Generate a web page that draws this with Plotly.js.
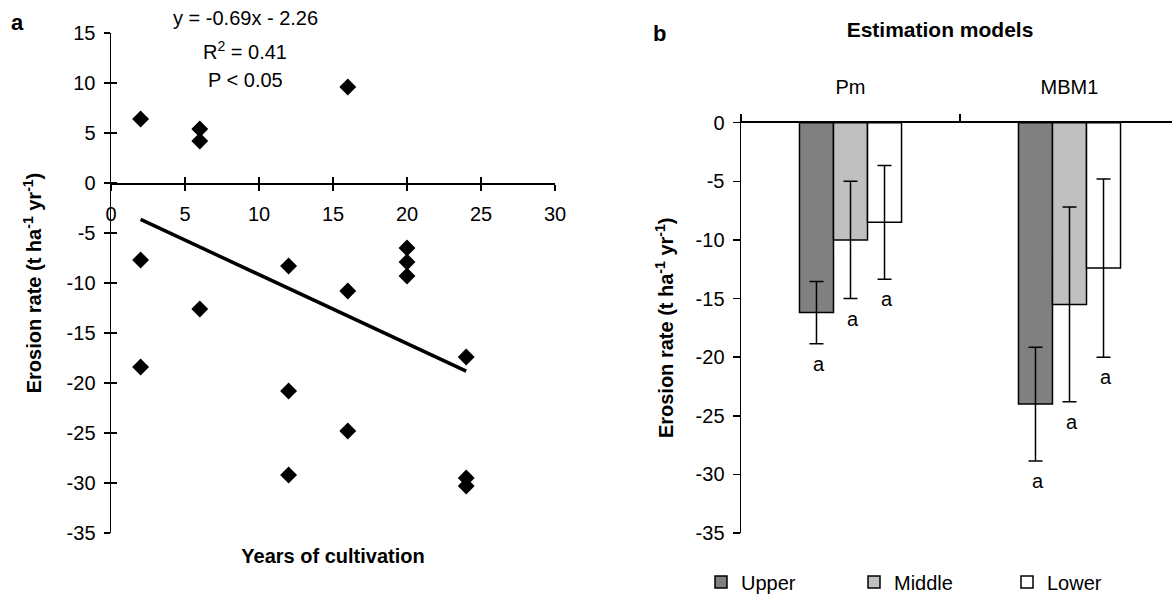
<!DOCTYPE html>
<html>
<head>
<meta charset="utf-8">
<script src="https://cdn.plot.ly/plotly-3.0.1.min.js"></script>
<style>html,body{margin:0;padding:0;background:#fff;}#chart{width:1172px;height:596px;}</style>
</head>
<body>
<div id="chart"></div>
<script>
// ---- Panel a: scatter data ----
const yearsCultivation = [2,2,2, 6,6,6, 12,12,12, 16,16,16, 20,20,20, 24,24,24];
const erosionRate = [6.4,-7.7,-18.4, 5.4,4.2,-12.6, -8.3,-20.8,-29.2, 9.6,-10.8,-24.8, -6.5,-7.9,-9.3, -17.4,-29.5,-30.3];
const trendSlope = -0.69;
const trendIntercept = -2.26;
const trendXRange = [2, 24];
const regressionLines = ['y = -0.69x - 2.26', 'R<sup>2</sup> = 0.41', 'P < 0.05'];
const xTickVals = [0, 5, 10, 15, 20, 25, 30];
const xTickText = ['0', '5', '10', '15', '20', '25', '30'];
const yTickValsA = [15, 10, 5, 0, -5, -10, -15, -20, -25, -30, -35];
const yTickTextA = ['15', '10', '5', '0', '-5', '-10', '-15', '-20', '-25', '-30', '-35'];

// ---- Panel b: bar data ----
const models = ['Pm', 'MBM1'];
const positions = ['Upper', 'Middle', 'Lower'];
const upperRate = [-16.2, -24.0];
const upperErr = [2.65, 4.85];
const middleRate = [-10.0, -15.5];
const middleErr = [5.0, 8.3];
const lowerRate = [-8.5, -12.4];
const lowerErr = [4.85, 7.6];
const sigLetters = [['a','a'], ['a','a'], ['a','a']];
const yTickValsB = [0, -5, -10, -15, -20, -25, -30, -35];
const yTickTextB = ['0', '-5', '-10', '-15', '-20', '-25', '-30', '-35'];

const W = 1172, H = 596;
const FONT = 'Liberation Sans, Arial, sans-serif';
const fs = 20;

// domains (paper fractions)
const xdA = [111/W, 555/W];
const ydA = [1-533/H, 1-33/H];
const xdB = [741/W, 1];
const ydB = [1-533/H, 1-122.7/H];
const yRangeA = [-35, 15];
const zeroPos = ydA[0] + (0 - yRangeA[0])/(yRangeA[1]-yRangeA[0])*(ydA[1]-ydA[0]);

const catPx = 219;
const xRangeB = [-0.5, -0.5 + (xdB[1]-xdB[0])*W/catPx];

const traces = [];
traces.push({
  type:'scatter', mode:'markers', x: yearsCultivation, y: erosionRate,
  xaxis:'x', yaxis:'y', showlegend:false,
  marker:{symbol:'diamond', size:13, color:'#000'}
});
traces.push({
  type:'scatter', mode:'lines', x: trendXRange, y: trendXRange.map(v => trendSlope*v + trendIntercept),
  xaxis:'x', yaxis:'y', showlegend:false,
  line:{color:'#000', width:3.5}
});

const barSets = [
  {name: positions[0], y: upperRate, e: upperErr, c:'#808080'},
  {name: positions[1], y: middleRate, e: middleErr, c:'#c0c0c0'},
  {name: positions[2], y: lowerRate, e: lowerErr, c:'#ffffff'}
];
barSets.forEach(b => {
  traces.push({
    type:'bar', name:b.name, x: models, y: b.y, xaxis:'x2', yaxis:'y2',
    marker:{color:b.c, line:{color:'#000', width:1.5}},
    error_y:{type:'data', array:b.e, visible:true, color:'#000', thickness:1.5, width:7}
  });
});

const annotations = [];
annotations.push({xref:'paper', yref:'paper', x:17/W, y:1-22/H, xanchor:'center', yanchor:'middle', text:'<b>a</b>', showarrow:false, font:{size:22, color:'#000', family:FONT}});
annotations.push({xref:'paper', yref:'paper', x:659/W, y:1-34/H, xanchor:'center', yanchor:'middle', text:'<b>b</b>', showarrow:false, font:{size:22, color:'#000', family:FONT}});
const regY = [18, 50, 80];
regressionLines.forEach((t,i) => {
  annotations.push({xref:'paper', yref:'paper', x:245/W, y:1-regY[i]/H, xanchor:'center', yanchor:'middle', text:t, showarrow:false, font:{size:fs, color:'#000', family:FONT}});
});
const offsets = [-34, 0, 34];
barSets.forEach((b, si) => {
  models.forEach((m, mi) => {
    annotations.push({
      xref:'x2', yref:'y2', x:m, y:b.y[mi]-b.e[mi], text:sigLetters[si][mi],
      xshift: offsets[si]+2, yshift:-7, xanchor:'center', yanchor:'top', showarrow:false,
      font:{size:fs, color:'#000', family:FONT}
    });
  });
});

const axLine = {showline:true, linecolor:'#000', linewidth:1.5, showgrid:false, zeroline:false, tickcolor:'#000', tickwidth:1.5, tickfont:{size:fs, color:'#000', family:FONT}};

const layout = {
  width:W, height:H,
  margin:{l:0, r:0, t:0, b:0, autoexpand:false},
  paper_bgcolor:'#fff', plot_bgcolor:'rgba(0,0,0,0)',
  font:{family:FONT, color:'#000', size:fs},
  title:{text:'<b>Estimation models</b>', x:940/W, xanchor:'center', y:1-30/H, yanchor:'middle', font:{size:21, color:'#000', family:FONT}},
  showlegend:true,
  legend:{orientation:'h', x:701/W, xanchor:'left', y:1-582/H, yanchor:'middle', entrywidth:108, entrywidthmode:'pixels', font:{size:fs, color:'#000', family:FONT}, bgcolor:'rgba(0,0,0,0)', traceorder:'normal'},
  barmode:'group', bargap:0.534, bargroupgap:0,
  xaxis: Object.assign({}, axLine, {domain:xdA, range:[0,30], anchor:'free', position:zeroPos, tickmode:'array', tickvals:xTickVals, ticktext:xTickText, ticks:'outside', ticklen:6, ticklabelstandoff:6}),
  xaxis3: {domain:xdA, range:[0,30], overlaying:'x', anchor:'free', position:zeroPos, tickmode:'array', tickvals:xTickVals, ticks:'inside', ticklen:6, tickwidth:1.5, tickcolor:'#000', showticklabels:false, showline:false, showgrid:false, zeroline:false},
  xaxis4: {domain:xdA, range:[0,30], overlaying:'x', anchor:'y', showline:false, showgrid:false, zeroline:false, ticks:'', showticklabels:false,
           title:{text:'<b>Years of cultivation</b>', standoff:15, font:{size:fs, color:'#000', family:FONT}}},
  yaxis: Object.assign({}, axLine, {domain:ydA, range:yRangeA, anchor:'x', tickmode:'array', tickvals:yTickValsA, ticktext:yTickTextA, ticks:'outside', ticklen:6, ticklabelstandoff:4,
           title:{text:'<b>Erosion rate (t ha<sup>-1</sup> yr<sup>-1</sup>)</b>', standoff:19, font:{size:fs, color:'#000', family:FONT}}}),
  yaxis3: {domain:ydA, range:yRangeA, overlaying:'y', anchor:'x', tickmode:'array', tickvals:yTickValsA, ticks:'inside', ticklen:6, tickwidth:1.5, tickcolor:'#000', showticklabels:false, showline:false, showgrid:false, zeroline:false},
  xaxis2: Object.assign({}, axLine, {domain:xdB, type:'category', categoryorder:'array', categoryarray:models, range:xRangeB, anchor:'y2', side:'top', ticks:'outside', ticklen:7, tickson:'boundaries', ticklabelstandoff:19}),
  yaxis2: Object.assign({}, axLine, {domain:ydB, range:[-35,0], anchor:'x2', tickmode:'array', tickvals:yTickValsB, ticktext:yTickTextB, ticks:'outside', ticklen:7, ticklabelstandoff:4,
           title:{text:'<b>Erosion rate (t ha<sup>-1</sup> yr<sup>-1</sup>)</b>', standoff:16, font:{size:fs, color:'#000', family:FONT}}}),
  annotations: annotations
};

// dummy traces so overlay axes are drawn
traces.push({type:'scatter', mode:'markers', x:[], y:[], xaxis:'x3', yaxis:'y', showlegend:false, hoverinfo:'skip'});
traces.push({type:'scatter', mode:'markers', x:[], y:[], xaxis:'x4', yaxis:'y', showlegend:false, hoverinfo:'skip'});
traces.push({type:'scatter', mode:'markers', x:[], y:[], xaxis:'x', yaxis:'y3', showlegend:false, hoverinfo:'skip'});

Plotly.newPlot('chart', traces, layout, {staticPlot:true, displayModeBar:false});
</script>
</body>
</html>
